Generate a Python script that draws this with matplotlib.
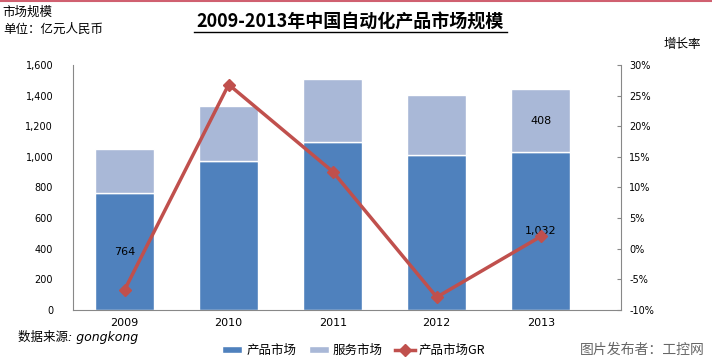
import matplotlib.pyplot as plt
from matplotlib.ticker import FuncFormatter

plt.rcParams['font.family'] = ['Noto Sans CJK SC', 'DejaVu Sans']

# --- Data ---
years = ['2009', '2010', '2011', '2012', '2013']
product_market = [764, 971, 1095, 1010, 1032]
service_market = [288, 362, 414, 394, 408]
product_gr = [-6.7, 26.8, 12.6, -7.9, 2.0]

DARK = '#4F81BD'
LIGHT = '#A9B8D7'
RED = '#C0504D'
AXIS = '#888888'

fig = plt.figure(figsize=(7.12, 3.62), dpi=100)
ax = fig.add_axes([0.102, 0.1436, 0.770, 0.677])

x = range(len(years))
ax.bar(x, product_market, width=0.57, color=DARK, edgecolor='white', linewidth=1, label='产品市场')
ax.bar(x, service_market, width=0.57, bottom=product_market, color=LIGHT,
       edgecolor='white', linewidth=1, label='服务市场')

ax.set_xlim(-0.5, 4.77)
ax.set_ylim(0, 1600)
ax.set_yticks(range(0, 1601, 200))
ax.yaxis.set_major_formatter(FuncFormatter(lambda v, p: f'{int(v):,}'))
ax.set_xticks(list(x))
ax.set_xticklabels(years, fontsize=8, family='DejaVu Sans')
ax.tick_params(axis='y', length=0, labelsize=7, pad=14)
ax.tick_params(axis='x', length=0, pad=6)
for lbl in ax.get_yticklabels():
    lbl.set_family('DejaVu Sans')
for side in ['top', 'right']:
    ax.spines[side].set_visible(False)
for side in ['left', 'bottom']:
    ax.spines[side].set_color(AXIS)

# data labels (only some shown in the original)
ax.text(0, product_market[0] / 2, f'{product_market[0]:,}', ha='center', va='center',
        fontsize=8, family='DejaVu Sans')
ax.text(4, product_market[4] / 2, f'{product_market[4]:,}', ha='center', va='center',
        fontsize=8, family='DejaVu Sans')
ax.text(4, product_market[4] + service_market[4] / 2, f'{service_market[4]}', ha='center',
        va='center', fontsize=8, family='DejaVu Sans')

# growth rate line on the right axis
ax2 = ax.twinx()
ax2.plot(list(x), product_gr, color=RED, linewidth=2.5, marker='D', markersize=6,
         label='产品市场GR')
ax2.set_ylim(-10, 30)
ax2.set_yticks(range(-10, 31, 5))
ax2.yaxis.set_major_formatter(FuncFormatter(lambda v, p: f'{int(v)}%'))
ax2.tick_params(axis='y', direction='in', length=3, color=AXIS, labelsize=7, pad=6)
for lbl in ax2.get_yticklabels():
    lbl.set_family('DejaVu Sans')
for side in ['top', 'left', 'bottom']:
    ax2.spines[side].set_visible(False)
ax2.spines['right'].set_color(AXIS)

# --- Texts ---
fig.add_artist(plt.Line2D([0, 1], [0.997, 0.997], color='#D06070', linewidth=1.5))
fig.text(0.492, 0.94, '2009-2013年中国自动化产品市场规模', ha='center', va='center',
         fontsize=13, fontweight='bold')
fig.add_artist(plt.Line2D([0.272, 0.712], [0.912, 0.912], color='black', linewidth=1))
fig.text(0.004, 0.965, '市场规模', ha='left', va='center', fontsize=9)
fig.text(0.004, 0.92, '单位：亿元人民币', ha='left', va='center', fontsize=9)
fig.text(0.958, 0.877, '增长率', ha='center', va='center', fontsize=9)
fig.text(0.025, 0.068, '数据来源: gongkong', ha='left', va='center', fontsize=9,
         style='italic', family=['DejaVu Sans', 'Noto Sans CJK SC'])
fig.text(0.99, 0.035, '图片发布者：工控网', ha='right', va='center', fontsize=10, color='#666666')

h1, l1 = ax.get_legend_handles_labels()
h2, l2 = ax2.get_legend_handles_labels()
fig.legend(h1 + h2, l1 + l2, loc='center', bbox_to_anchor=(0.497, 0.033), ncol=3,
           frameon=False, fontsize=9, handlelength=1.6, handleheight=0.5,
           handletextpad=0.3, columnspacing=1.0)

fig.savefig('out.png', dpi=100)
